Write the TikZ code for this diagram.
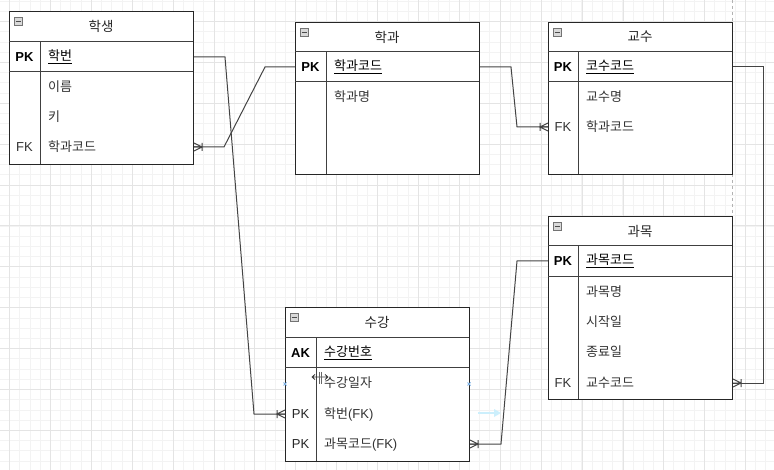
\documentclass[tikz,border=0pt]{standalone}
\usepackage{fontspec}
\setmainfont{Liberation Sans}
\newfontfamily\kr{Noto Sans CJK KR}
\usetikzlibrary{calc}

\definecolor{edgegray}{HTML}{444444}
\definecolor{textgray}{HTML}{333333}
\definecolor{gridminor}{HTML}{F3F3F3}
\definecolor{gridmajor}{HTML}{E4E4E4}
\definecolor{handle}{HTML}{7FB2E5}

\begin{document}
\begin{tikzpicture}[x=1pt, y=-1pt,
    entity/.style={draw=black!85, line width=1pt, fill=white, anchor=north west,
                   minimum width=184pt, inner sep=0pt},
    rule/.style={draw=black!75, line width=1pt},
    title/.style={font=\fontsize{13.5}{15}\selectfont\kr, text=black!85},
    keytxt/.style={font=\fontsize{13}{15}\selectfont\bfseries, text=black},
    fktxt/.style={font=\fontsize{13}{15}\selectfont, text=textgray},
    attr/.style={font=\fontsize{13}{15}\selectfont, text=textgray, anchor=west, inner sep=0pt},
    keyattr/.style={font=\fontsize{13}{15}\selectfont, text=black, anchor=west, inner sep=0pt},
    minusbox/.style={draw=black!55, fill=black!15, minimum size=8pt, inner sep=0pt,
                     path picture={\draw[black!70] ([xshift=1.5pt]path picture bounding box.west)
                                   -- ([xshift=-1.5pt]path picture bounding box.east);}},
    rel/.style={draw=edgegray, line width=1pt},
    many/.pic={\draw[edgegray, line width=1pt] (0,0) -- (8,0) (0,-4) -- (8,0) -- (0,4) (8,-4) -- (8,4);}]

  \useasboundingbox (0,0) rectangle (774,470);
  \fill[white] (0,0) rectangle (774,470);

  % Grid
  \foreach \gx in {-0.8,9.42,...,774} \draw[gridminor, line width=0.6pt] (\gx,0) -- (\gx,470);
  \foreach \gy in {1,11.22,...,470} \draw[gridminor, line width=0.6pt] (0,\gy) -- (774,\gy);
  \foreach \gx in {9.4,50.3,...,774} \draw[gridmajor, line width=0.8pt] (\gx,0) -- (\gx,470);
  \foreach \gy in {21.4,62.3,...,470} \draw[gridmajor, line width=0.8pt] (0,\gy) -- (774,\gy);

  % Page guide
  \draw[black!30, dashed, line width=0.6pt] (732.5,0) -- (732.5,216);

  % 학생
  \node[entity, minimum height=153pt] (student) at (9,11) {};
  \draw[rule] (9,42) -- (193,42);
  \draw[rule] (9,72) -- (193,72);
  \draw[rule] (40,42) -- (40,164);
  \node[minusbox] at (18,21) {};
  \node[title] (s-title) at (101,26) {학생};
  \node[keytxt] (s-pk) at (24.5,57) {PK};
  \node[keyattr] (s-id) at (48,57) {\underline{\kr 학번}};
  \node[attr] (s-name) at (48,87) {\kr 이름};
  \node[attr] (s-height) at (48,117) {\kr 키};
  \node[fktxt] (s-fk) at (24.5,147) {FK};
  \node[attr] (s-dcode) at (48,147) {\kr 학과코드};

  % 학과
  \node[entity, minimum height=152pt] (dept) at (295,22) {};
  \draw[rule] (295,52) -- (479,52);
  \draw[rule] (295,82) -- (479,82);
  \draw[rule] (326,52) -- (326,174);
  \node[minusbox] at (304,32) {};
  \node[title] (d-title) at (387,37) {학과};
  \node[keytxt] (d-pk) at (310.5,67) {PK};
  \node[keyattr] (d-code) at (334,67) {\underline{\kr 학과코드}};
  \node[attr] (d-name) at (334,97) {\kr 학과명};

  % 교수
  \node[entity, minimum height=152pt] (prof) at (548,22) {};
  \draw[rule] (548,52) -- (732,52);
  \draw[rule] (548,82) -- (732,82);
  \draw[rule] (578,52) -- (578,174);
  \node[minusbox] at (557,32) {};
  \node[title] (p-title) at (640,37) {교수};
  \node[keytxt] (p-pk) at (563,67) {PK};
  \node[keyattr] (p-code) at (586,67) {\underline{\kr 코수코드}};
  \node[attr] (p-name) at (586,97) {\kr 교수명};
  \node[fktxt] (p-fk) at (563,127) {FK};
  \node[attr] (p-dcode) at (586,127) {\kr 학과코드};

  % 과목
  \node[entity, minimum height=183pt] (course) at (548,216) {};
  \draw[rule] (548,246) -- (732,246);
  \draw[rule] (548,277) -- (732,277);
  \draw[rule] (578,246) -- (578,399);
  \node[minusbox] at (557,226) {};
  \node[title] (c-title) at (640,231) {과목};
  \node[keytxt] (c-pk) at (563,261) {PK};
  \node[keyattr] (c-code) at (586,261) {\underline{\kr 과목코드}};
  \node[attr] (c-name) at (586,292) {\kr 과목명};
  \node[attr] (c-start) at (586,322) {\kr 시작일};
  \node[attr] (c-end) at (586,352) {\kr 종료일};
  \node[fktxt] (c-fk) at (563,383) {FK};
  \node[attr] (c-pcode) at (586,383) {\kr 교수코드};

  % 수강
  \node[entity, minimum height=154pt] (enroll) at (285,307) {};
  \draw[rule] (285,338) -- (469,338);
  \draw[rule] (285,368) -- (469,368);
  \draw[rule] (316,338) -- (316,461);
  \node[minusbox] at (294,317) {};
  \node[title] (e-title) at (377,322) {수강};
  \node[keytxt] (e-ak) at (300.5,353) {AK};
  \node[keyattr] (e-no) at (324,353) {\underline{\kr 수강번호}};
  \node[attr] (e-date) at (324,383) {\kr 수강일자};
  \node[fktxt, text=black!85] (e-pk1) at (300.5,414) {PK};
  \node[attr] (e-sid) at (324,414) {{\kr 학번}(FK)};
  \node[fktxt, text=black!85] (e-pk2) at (300.5,444) {PK};
  \node[attr] (e-ccode) at (324,444) {{\kr 과목코드}(FK)};

  % Relations
  \draw[rel] (s-id -| student.east) -- ++(31,0)
        -- ($(e-sid -| enroll.west)+(-31,0)$) -- (e-sid -| enroll.west);
  \draw[rel] (d-code -| dept.west) -- ++(-30,0)
        -- ($(s-dcode -| student.east)+(30,0)$) -- (s-dcode -| student.east);
  \draw[rel] (d-code -| dept.east) -- ++(31,0)
        -- ($(p-dcode -| prof.west)+(-31,0)$) -- (p-dcode -| prof.west);
  \draw[rel] (p-code -| prof.east) -- ++(30,0) |- (c-pcode -| course.east);
  \draw[rel] (c-code -| course.west) -- ++(-31,0)
        -- ($(e-ccode -| enroll.east)+(31,0)$) -- (e-ccode -| enroll.east);

  % Many ends
  \pic at (s-dcode -| student.east) {many};
  \pic[rotate=180] at (e-sid -| enroll.west) {many};
  \pic[rotate=180] at (p-dcode -| prof.west) {many};
  \pic at (c-pcode -| course.east) {many};
  \pic at (e-ccode -| enroll.east) {many};

  % Handles and cursor
  \draw[handle, line width=0.8pt] (283.5,382.5) -- (286.5,385.5) (283.5,385.5) -- (286.5,382.5);
  \draw[handle, line width=0.8pt] (467.5,382.5) -- (470.5,385.5) (467.5,385.5) -- (470.5,382.5);
  \draw[black!80, line width=0.8pt] (312,377) -- (328,377) (312,377) -- (315,374.5) (312,377) -- (315,379.5)
        (328,377) -- (325,374.5) (328,377) -- (325,379.5);
  \draw[black!60, line width=0.8pt] (319,372) -- (319,384) (321.5,372) -- (321.5,384);
  \draw[cyan!20, line width=2pt] (478,413) -- (496,413);
  \fill[cyan!20] (494,409) -- (501,413) -- (494,417) -- cycle;
\end{tikzpicture}
\end{document}
